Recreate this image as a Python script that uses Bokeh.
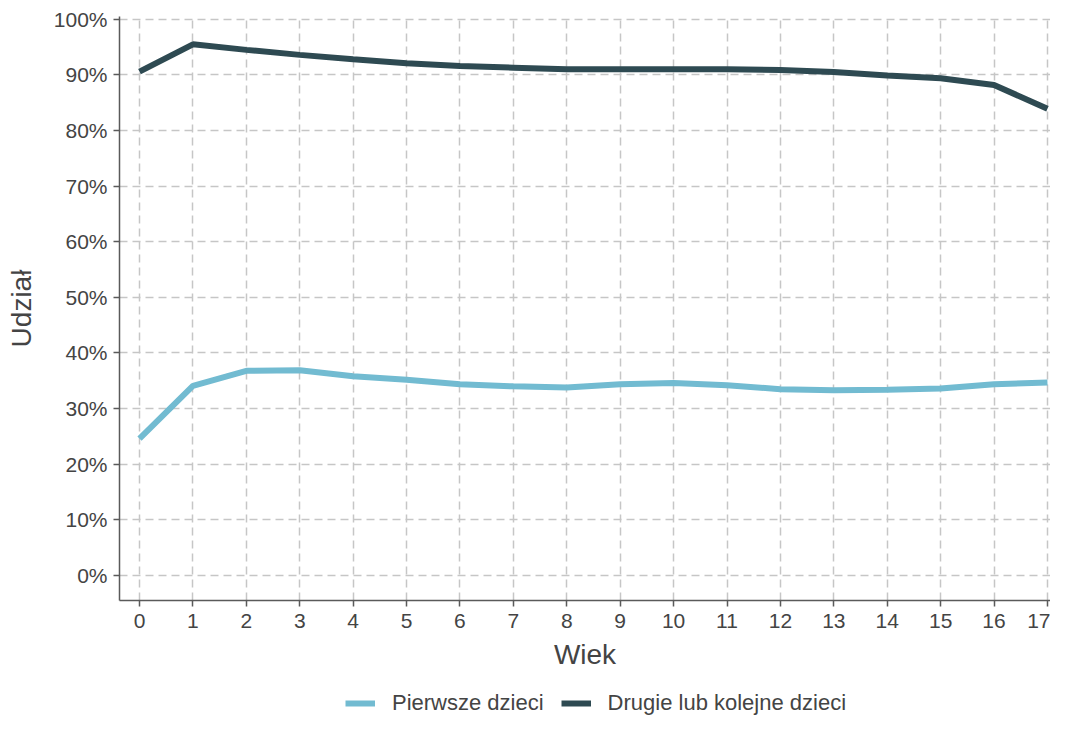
from bokeh.plotting import figure
from bokeh.layouts import column
from bokeh.models import Legend, LegendItem, FixedTicker, PrintfTickFormatter, Range1d
from bokeh.embed import file_html
from bokeh.resources import INLINE

wiek = list(range(18))
pierwsze = [24.6, 34.1, 36.8, 36.9, 35.8, 35.2, 34.4, 34.0, 33.8, 34.4, 34.6, 34.2,
            33.5, 33.3, 33.4, 33.6, 34.4, 34.7]
drugie = [90.6, 95.5, 94.5, 93.6, 92.8, 92.1, 91.6, 91.3, 91.0, 91.0, 91.0, 91.0,
          90.9, 90.5, 89.9, 89.4, 88.2, 83.9]
y_ticks = list(range(0, 101, 10))
labels = ["Pierwsze dzieci", "Drugie lub kolejne dzieci"]
colors = ["#72BBD1", "#2E4A52"]

FONT = "Liberation Sans"

p = figure(width=1050, height=680, output_backend="svg", toolbar_location=None,
           x_range=Range1d(-0.3745, 17.057), y_range=Range1d(-4.5, 100.5),
           min_border_left=119, min_border_right=0, min_border_top=16,
           min_border_bottom=80)
p.outline_line_color = None
p.background_fill_color = "white"

p.line(wiek, pierwsze, line_color=colors[0], line_width=6)
p.line(wiek, drugie, line_color=colors[1], line_width=6)

for ax in (p.xaxis[0], p.yaxis[0]):
    ax.axis_line_color = "#5a5a5a"
    ax.axis_line_width = 1.5
    ax.major_tick_line_color = "#5a5a5a"
    ax.major_tick_line_width = 1.5
    ax.major_tick_out = 6
    ax.major_tick_in = 0
    ax.minor_tick_line_color = None
    ax.major_label_text_font = FONT
    ax.major_label_text_font_size = "21px"
    ax.major_label_text_color = "#444444"
    ax.axis_label_text_font = FONT
    ax.axis_label_text_font_size = "28px"
    ax.axis_label_text_font_style = "normal"
    ax.axis_label_text_color = "#444444"

p.xaxis[0].ticker = FixedTicker(ticks=wiek)
p.yaxis[0].ticker = FixedTicker(ticks=y_ticks)
p.yaxis[0].formatter = PrintfTickFormatter(format="%d%%")
p.xaxis[0].axis_label = "Wiek"
p.yaxis[0].axis_label = "Udział"
p.xaxis[0].major_label_standoff = 7
p.xaxis[0].axis_label_standoff = 8
p.yaxis[0].major_label_standoff = 6
p.yaxis[0].axis_label_standoff = 14

for g in (p.xgrid[0], p.ygrid[0]):
    g.grid_line_color = "#c6c6c6"
    g.grid_line_width = 1.5
    g.grid_line_dash = "8 5"

# legend strip below the chart (series drawn outside its visible range,
# so only the legend entries show)
lg = figure(width=1050, height=38, output_backend="svg", toolbar_location=None,
            x_axis_location=None, y_axis_location=None,
            x_range=Range1d(100, 101), y_range=Range1d(200, 201),
            min_border_left=0, min_border_right=0, min_border_top=0,
            min_border_bottom=0)
lg.outline_line_color = None
lg.xgrid.visible = False
lg.ygrid.visible = False
d1 = lg.line(wiek, pierwsze, line_color=colors[0], line_width=6)
d2 = lg.line(wiek, drugie, line_color=colors[1], line_width=6)
legend = Legend(items=[LegendItem(label=labels[0], renderers=[d1]),
                       LegendItem(label=labels[1], renderers=[d2])],
                orientation="horizontal", location=(226, 2),
                label_text_font=FONT, label_text_font_size="22px",
                label_text_color="#444444", glyph_width=30, glyph_height=22,
                spacing=17, border_line_color=None, background_fill_alpha=0,
                padding=4, label_standoff=17, margin=0)
lg.add_layout(legend, "center")

layout = column(p, lg, spacing=0)
open("out.html", "w").write(file_html(layout, INLINE))
